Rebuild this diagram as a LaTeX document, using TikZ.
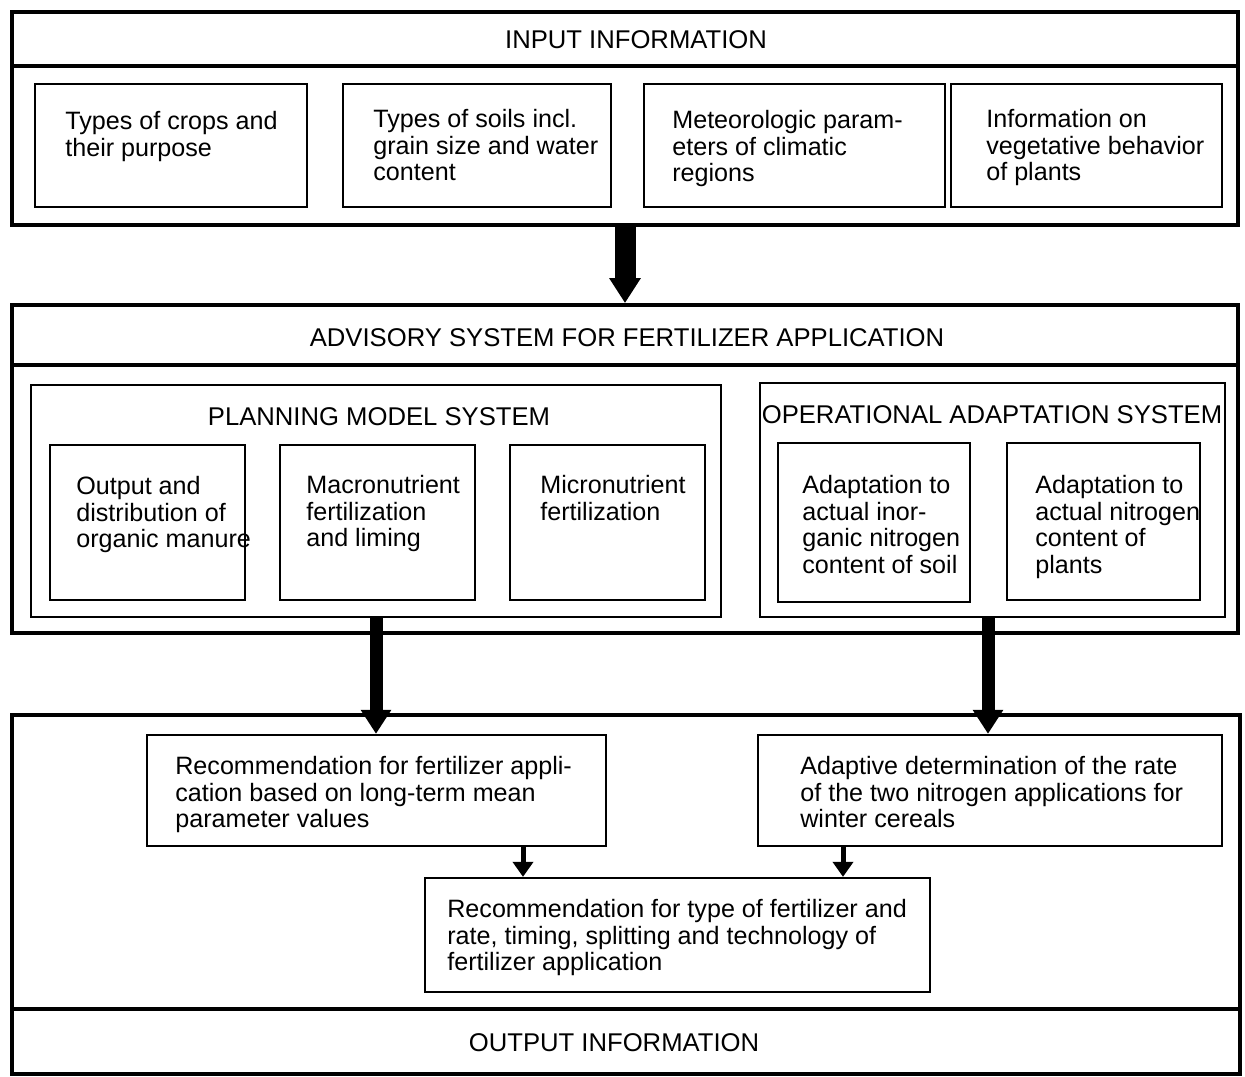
\documentclass[tikz,border=0pt]{standalone}
\usepackage{fontspec}
\setmainfont{Liberation Sans}
\usetikzlibrary{fit,arrows.meta}

\tikzset{
  frame/.style={draw, line width=2.2pt, inner sep=0pt},
  box/.style={draw, line width=1.3pt, inner sep=0pt},
  txt/.style={anchor=north west, align=left, inner sep=0pt,
    font=\fontsize{14.3}{15.1}\selectfont},
  title/.style={inner sep=0pt, font=\fontsize{14.6}{15.1}\selectfont},
  bigarrow/.style={line width=0.42cm, -{Triangle[width=0.6cm,length=0.5cm]}},
  midarrow/.style={line width=0.26cm, -{Triangle[width=0.58cm,length=0.48cm]}},
  smallarrow/.style={line width=0.1cm, -{Triangle[width=0.4cm,length=0.3cm]}}
}

\begin{document}
\begin{tikzpicture}[x=0.02cm, y=-0.02cm]
    \useasboundingbox (0,0) rectangle (1245,1076);

    % input information
    \node[frame, fit={(12,12) (1238,225)}] (input) {};
    \draw[frame] (12,66) -- (1238,66);
    \node[title] (inputtitle) at (636,40) {INPUT INFORMATION};

    \node[box, fit={(35,84) (307,207)}] (crops) {};
    \node[box, fit={(343,84) (611,207)}] (soils) {};
    \node[box, fit={(644,84) (945,207)}] (meteo) {};
    \node[box, fit={(951,84) (1222,207)}] (veget) {};
    \node[txt] (cropstxt) at (65,111) {Types of crops and\\their purpose};
    \node[txt] (soilstxt) at (373,109) {Types of soils incl.\\grain size and water\\content};
    \node[txt] (meteotxt) at (672,110) {Meteorologic param-\\eters of climatic\\regions};
    \node[txt] (vegettxt) at (986,109) {Information on\\vegetative behavior\\of plants};

    % advisory system
    \node[frame, fit={(12,305) (1238,633)}] (advisory) {};
    \draw[frame] (12,365) -- (1238,365);
    \node[title] (advisorytitle) at (627,338) {ADVISORY SYSTEM FOR FERTILIZER APPLICATION};

    \node[box, fit={(31,385) (721,617)}] (planning) {};
    \node[title] (planningtitle) at (379,417) {PLANNING MODEL SYSTEM};
    \node[box, fit={(50,445) (245,600)}] (organic) {};
    \node[box, fit={(280,445) (475,600)}] (macro) {};
    \node[box, fit={(510,445) (705,600)}] (micro) {};
    \node[txt] (organictxt) at (76,476) {Output and\\distribution of\\organic manure};
    \node[txt] (macrotxt) at (306,475) {Macronutrient\\fertilization\\and liming};
    \node[txt] (microtxt) at (540,475) {Micronutrient\\fertilization};

    \node[box, fit={(760,383) (1225,617)}] (oper) {};
    \node[title] (opertitle) at (992,415) {OPERATIONAL ADAPTATION SYSTEM};
    \node[box, fit={(778,443) (970,602)}] (soilN) {};
    \node[box, fit={(1007,443) (1200,600)}] (plantN) {};
    \node[txt] (soilNtxt) at (802,475) {Adaptation to\\actual inor-\\ganic nitrogen\\content of soil};
    \node[txt] (plantNtxt) at (1035,475) {Adaptation to\\actual nitrogen\\content of\\plants};

    % output information
    \node[frame, fit={(12,715) (1240,1074)}] (output) {};
    \draw[frame] (12,1009) -- (1240,1009);
    \node[title] (outputtitle) at (614,1043) {OUTPUT INFORMATION};

    \node[box, fit={(147,735) (606,846)}] (rec) {};
    \node[box, fit={(758,735) (1222,846)}] (adapt) {};
    \node[box, fit={(425,878) (930,992)}] (final) {};
    \node[txt] (rectxt) at (175,756) {Recommendation for fertilizer appli-\\cation based on long-term mean\\parameter values};
    \node[txt] (adapttxt) at (800,756) {Adaptive determination of the rate\\of the two nitrogen applications for\\winter cereals};
    \node[txt] (finaltxt) at (447,899) {Recommendation for type of fertilizer and\\rate, timing, splitting and technology of\\fertilizer application};

    % arrows
    \coordinate (s1) at (523,0);
    \coordinate (s2) at (843,0);
    \draw[bigarrow] (input.south) -- (advisory.north);
    \draw[midarrow] (planning.south) -- (planning.south |- rec.north);
    \draw[midarrow] (oper.south -| 988,0) -- (adapt.north -| 988,0);
    \draw[smallarrow] (rec.south -| s1) -- (final.north -| s1);
    \draw[smallarrow] (adapt.south -| s2) -- (final.north -| s2);
\end{tikzpicture}
\end{document}
